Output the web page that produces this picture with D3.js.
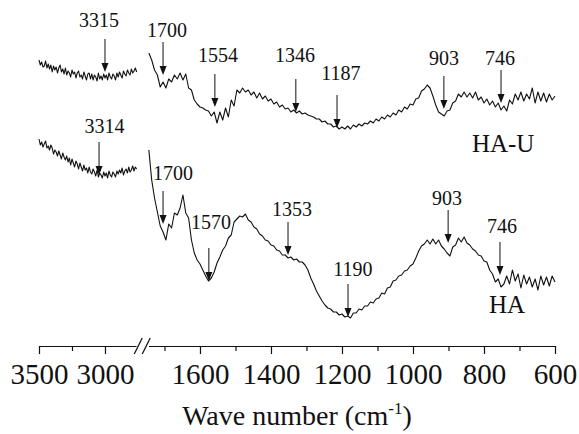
<!DOCTYPE html>
<html>
<head>
<meta charset="utf-8">
<script src="https://cdn.jsdelivr.net/npm/d3@7"></script>
<style>
  body { margin: 0; background: #fff; }
  svg { display: block; font-family: "Liberation Serif", "Times New Roman", serif; }
</style>
</head>
<body>
<svg id="chart" width="579" height="434"></svg>
<script>
// wavenumber grids (cm-1), high region left of the break, fingerprint region right of it
const highWn = d3.range(3500, 2759, -10);
const lowWn = d3.range(1744, 599, -8);

// transmittance (a.u.)
const haU_high = [
  270,265,268,263,264,269,262,266,261,265,
  258,264,260,263,257,262,265,258,261,256,
  262,255,259,257,253,260,256,258,252,257,
  259,253,255,251,258,254,250,256,257,251,
  256,250,255,253,249,257,251,254,250,256,
  252,255,250,257,253,251,256,254,250,257,
  253,258,255,252,259,256,254,260,257,255,
  261,257,259,262,258
];
const ha_high = [
  191,185,188,183,186,189,182,184,180,185,
  182,176,180,178,174,179,175,171,177,173,
  170,174,168,172,165,171,167,163,169,166,
  161,167,163,159,165,160,162,157,163,158,
  156,161,158,154,160,153,157,155,152,158,
  154,157,152,159,155,153,158,156,153,159,
  156,160,157,162,155,159,161,157,163,158,
  160,164,159,163,161
];
const haU_low = [
  277,270,260,255,243,248,242,251,248,255,
  251,257,250,256,242,240,230,226,223,222,
  220,219,214,218,207,218,210,222,213,230,
  224,240,237,242,238,240,235,238,232,237,
  231,234,229,231,226,228,223,225,221,222,
  218,220,217,219,216,217,215,214,213,211,
  211,208,209,206,206,203,204,201,203,201,
  204,201,205,203,206,204,207,206,209,207,
  211,209,213,211,215,213,217,215,220,218,
  223,221,226,225,231,232,239,241,245,242,
  234,225,218,216,214,219,220,227,229,236,
  233,238,233,237,232,238,230,233,227,231,
  225,229,223,227,220,224,219,230,226,236,
  230,238,229,236,231,242,227,238,229,237,
  228,236,230,234
];
const ha_low = [
  180,150,132,118,104,98,90,106,102,117,
  115,122,135,117,112,90,77,70,66,60,
  54,49,52,58,67,73,80,84,92,95,
  108,111,114,113,116,110,108,103,101,96,
  94,90,89,85,84,80,79,75,75,72,
  73,70,71,68,68,65,60,52,46,39,
  34,29,25,22,21,18,18,15,16,13,
  14,12,17,17,21,20,24,24,28,27,
  31,32,37,36,42,43,49,50,54,55,
  59,60,64,66,72,79,84,86,90,86,
  91,86,90,84,81,77,74,83,85,92,
  88,93,87,85,81,79,75,74,69,68,
  60,56,48,51,43,46,54,46,60,49,
  56,42,55,46,53,43,51,40,54,45,
  53,44,54,48
];

// peak marks: arrow at wn pointing down to level tip, label centred at tx, baseline ty
const haUPeaks = [
  {text: "3315", wn: 3000, tip: 258, tx: 3045, ty: 303},
  {text: "1700", wn: 1704, tip: 255, tx: 1693, ty: 293},
  {text: "1554", wn: 1558, tip: 223, tx: 1549, ty: 268},
  {text: "1346", wn: 1330, tip: 218, tx: 1332, ty: 268},
  {text: "1187", wn: 1214, tip: 202, tx: 1203, ty: 250},
  {text: "903", wn: 913, tip: 221, tx: 913, ty: 265},
  {text: "746", wn: 752, tip: 227, tx: 755, ty: 265}
];
const haPeaks = [
  {text: "3314", wn: 3045, tip: 155, tx: 3004, ty: 197},
  {text: "1700", wn: 1704, tip: 106, tx: 1676, ty: 150},
  {text: "1570", wn: 1575, tip: 49, tx: 1569, ty: 101},
  {text: "1353", wn: 1352, tip: 75, tx: 1341, ty: 114},
  {text: "1190", wn: 1183, tip: 13, tx: 1169, ty: 54},
  {text: "903", wn: 901, tip: 87, tx: 904, ty: 125},
  {text: "746", wn: 755, tip: 55, tx: 749, ty: 97}
];
const seriesNames = [
  {text: "HA-U", wn: 746, t: 178},
  {text: "HA", wn: 735, t: 17}
];

const majorHigh = [3500, 3000], minorHigh = [3250];
const majorLow = [1600, 1400, 1200, 1000, 800, 600], minorLow = [1700, 1500, 1300, 1100, 900, 700];

const svg = d3.select("#chart");
const axisY = 346;

const xHigh = d3.scaleLinear().domain([3500, 2765]).range([39, 136]);
const xLow = d3.scaleLinear().domain([1745, 600]).range([148.5, 555]);
const y = d3.scaleLinear().domain([0, 300]).range([330, 30]);
const xOf = wn => wn > 2000 ? xHigh(wn) : xLow(wn);

function drawLine(wns, vals) {
  const line = d3.line().x(d => xOf(d[0])).y(d => y(d[1]));
  svg.append("path")
    .datum(wns.map((w, i) => [w, vals[i]]))
    .attr("d", line)
    .attr("fill", "none")
    .attr("stroke", "#111")
    .attr("stroke-width", 1.1)
    .attr("stroke-linejoin", "round");
}
drawLine(highWn, haU_high);
drawLine(lowWn, haU_low);
drawLine(highWn, ha_high);
drawLine(lowWn, ha_low);

// axes
function addAxis(scale, major, minor) {
  const g = svg.append("g").attr("transform", `translate(0,${axisY})`);
  g.call(d3.axisBottom(scale).tickValues(major).tickFormat(d3.format("d"))
    .tickSize(8).tickSizeOuter(0).tickPadding(9));
  const m = svg.append("g").attr("transform", `translate(0,${axisY})`);
  m.call(d3.axisBottom(scale).tickValues(minor).tickFormat("").tickSize(5).tickSizeOuter(0));
  m.select(".domain").remove();
  [g, m].forEach(a => {
    a.selectAll("path, line").attr("stroke", "#111").attr("stroke-width", 1.2);
    a.selectAll("text").attr("font-size", 29).attr("fill", "#111")
      .attr("font-family", "'Liberation Serif', 'Times New Roman', serif");
  });
}
addAxis(xHigh, majorHigh, minorHigh);
addAxis(xLow, majorLow, minorLow);

// axis break marks
const bx = (xHigh.range()[1] + xLow.range()[0]) / 2;
[-4, 4].forEach(off => {
  svg.append("line")
    .attr("x1", bx + off - 4).attr("y1", axisY + 8)
    .attr("x2", bx + off + 4).attr("y2", axisY - 8)
    .attr("stroke", "#111").attr("stroke-width", 1.2);
});

// axis title
const title = svg.append("text")
  .attr("x", (xHigh.range()[0] + xLow.range()[1]) / 2)
  .attr("y", 425)
  .attr("text-anchor", "middle")
  .attr("font-size", 28)
  .attr("fill", "#111");
title.append("tspan").text("Wave number (cm");
title.append("tspan").text("-1").attr("font-size", 17).attr("dy", -11);
title.append("tspan").text(")").attr("dy", 11);

// peak arrows
const arrowLen = 33;
function drawPeaks(peaks) {
  peaks.forEach(p => {
    const x = xOf(p.wn), tip = y(p.tip);
    svg.append("line")
      .attr("x1", x).attr("x2", x)
      .attr("y1", tip - arrowLen).attr("y2", tip - 8)
      .attr("stroke", "#111").attr("stroke-width", 1);
    svg.append("path")
      .attr("d", `M${x - 3.5},${tip - 9}L${x + 3.5},${tip - 9}L${x},${tip}Z`)
      .attr("fill", "#111");
    svg.append("text")
      .attr("x", xOf(p.tx)).attr("y", y(p.ty))
      .attr("text-anchor", "middle")
      .attr("font-size", 20)
      .attr("fill", "#111")
      .text(p.text);
  });
}
drawPeaks(haUPeaks);
drawPeaks(haPeaks);

seriesNames.forEach(s => {
  svg.append("text")
    .attr("x", xOf(s.wn)).attr("y", y(s.t))
    .attr("text-anchor", "middle")
    .attr("font-size", 25)
    .attr("fill", "#111")
    .text(s.text);
});
</script>
</body>
</html>
